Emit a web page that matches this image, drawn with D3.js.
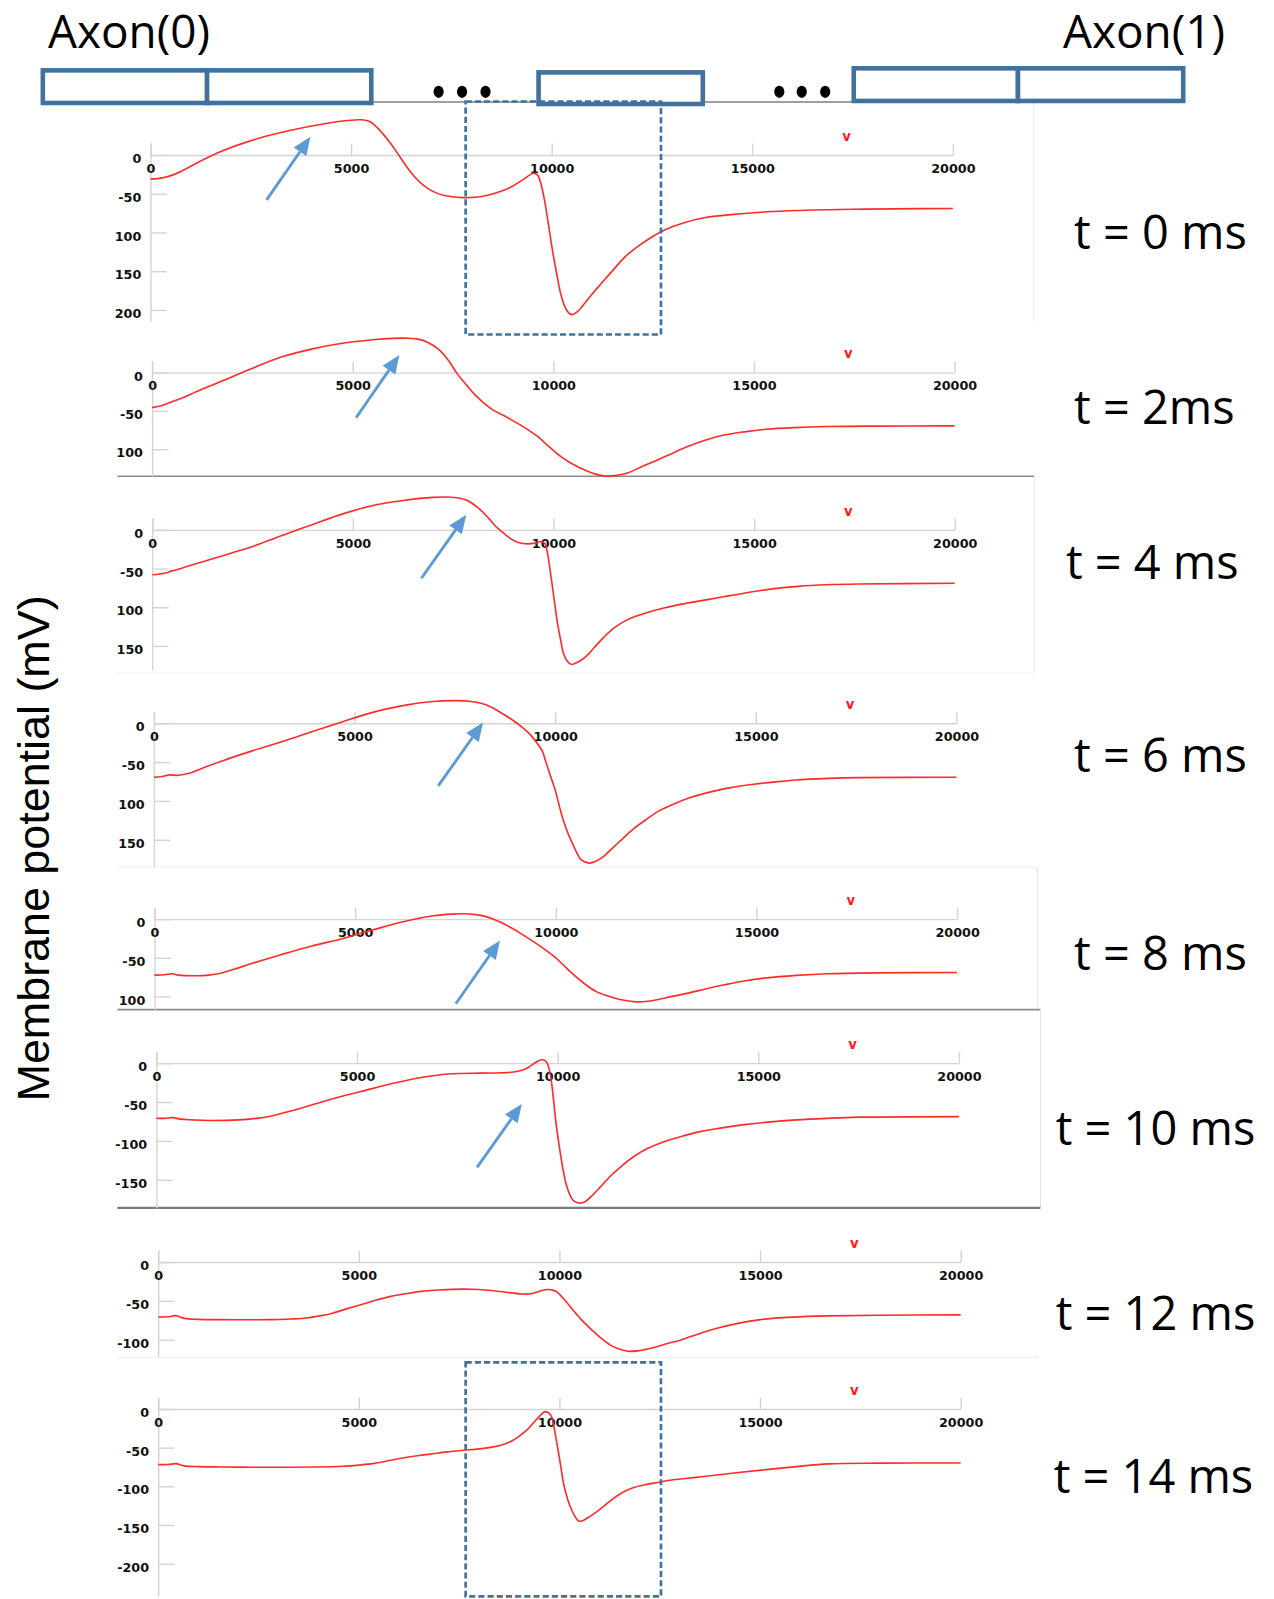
<!DOCTYPE html>
<html>
<head>
<meta charset="utf-8">
<script src="https://cdn.jsdelivr.net/npm/d3@7"></script>
<style>
  html, body { margin: 0; padding: 0; background: #ffffff; }
  svg { display: block; }
</style>
</head>
<body>
<svg id="chart" width="1274" height="1599" viewBox="0 0 1249 1568" preserveAspectRatio="none"></svg>
<script>
// ---------------- DATA ----------------
const xTicks = [0, 5000, 10000, 15000, 20000];
const timeLabels = ["t = 0 ms", "t = 2ms", "t = 4 ms", "t = 6 ms", "t = 8 ms", "t = 10 ms", "t = 12 ms", "t = 14 ms"];
const axonLabels = ["Axon(0)", "Axon(1)"];
const yLabel = "Membrane potential (mV)";

const yTicks5 = [0, -50, -100, -150, -200];
const yTicks4 = [0, -50, -100, -150];
const yTicks3 = [0, -50, -100];
const yTickLabelsClipped5 = ["0", "-50", "100", "150", "200"];
const yTickLabelsClipped4 = ["0", "-50", "100", "150"];
const yTickLabelsClipped3 = ["0", "-50", "100"];
const yTickLabelsFull5 = ["0", "-50", "-100", "-150", "-200"];
const yTickLabelsFull4 = ["0", "-50", "-100", "-150"];
const yTickLabelsFull3 = ["0", "-50", "-100"];

const markerX = 17350; // small red "v" marker position along the axon

// membrane potential (mV) vs position, one series per time step
const v0ms = [[0,-31],[300,-29.5],[600,-25],[900,-17.5],[1300,-6.5],[1800,5.5],[2300,15],[2900,24.5],[3500,32],[4300,40],[4900,44.5],[5250,45.5],[5450,43.5],[5600,38],[5800,27],[6000,14],[6200,-1],[6400,-16],[6600,-29],[6800,-39],[7000,-46],[7300,-52],[7800,-55],[8100,-54.5],[8400,-52],[8700,-47.5],[9000,-41],[9250,-33],[9450,-26],[9550,-23.5],[9650,-26],[9720,-35],[9820,-58],[9920,-90],[10020,-123],[10120,-152],[10220,-178],[10330,-196],[10450,-205],[10530,-206],[10650,-202],[10830,-191],[11000,-180],[11235,-166],[11540,-148],[11840,-131],[12150,-118],[12450,-107.5],[12850,-96],[13260,-88],[13800,-81],[14470,-77],[15490,-73],[16500,-71],[17500,-70],[18520,-69.5],[20000,-69]];
const v2ms = [[0,-45.7],[250,-43],[500,-38],[800,-32],[1100,-25],[1700,-12],[2500,5.7],[3200,20],[4000,31],[4700,38],[5500,43],[6000,44.8],[6300,45],[6600,44],[6850,40],[7150,30],[7400,15],[7600,-1],[7850,-17],[8050,-29],[8300,-41],[8500,-49],[8800,-57],[9100,-66],[9350,-74],[9600,-83],[9900,-97],[10200,-110],[10500,-120],[10800,-127.5],[11050,-132.5],[11300,-135],[11600,-134],[11850,-131],[12200,-123],[12600,-114],[13000,-104.5],[13350,-96.5],[13800,-88],[14250,-81.5],[14800,-77],[15300,-74],[16000,-71.8],[16800,-70.4],[18000,-69.8],[20000,-69.6]];
const v4ms = [[0,-58],[300,-56],[500,-53],[650,-51],[1000,-45],[1400,-39],[2000,-29.5],[2500,-21.5],[3200,-7.8],[4000,7],[4750,20.7],[5500,31.5],[6250,38],[7000,42],[7450,42.2],[7700,40.5],[7900,36.6],[8150,27],[8350,17],[8550,5],[8750,-4],[8950,-12],[9100,-16],[9300,-18],[9500,-17.5],[9700,-15],[9790,-18],[9850,-30],[9950,-65],[10030,-95],[10100,-121],[10180,-143],[10250,-160],[10350,-170],[10450,-174],[10600,-171],[10800,-164],[11000,-153],[11250,-139],[11500,-127],[11850,-116],[12300,-107.5],[12750,-101],[13300,-95],[13800,-90.5],[14400,-85],[15000,-79.7],[15500,-76],[16100,-73],[16800,-71],[17600,-70],[20000,-69]];
const v6ms = [[0,-69.5],[200,-68.5],[400,-66.5],[600,-67],[900,-64],[1300,-56],[1700,-48.5],[2450,-35.6],[3200,-23.6],[3950,-10.7],[4700,2],[5450,14],[6200,22.7],[6950,28],[7550,29],[7900,28],[8150,25.8],[8400,21],[8600,15],[8850,7],[9100,-2],[9350,-13],[9550,-25.8],[9680,-36],[9750,-47],[9870,-66],[10000,-86],[10100,-106],[10200,-124.5],[10320,-142],[10450,-157],[10550,-168],[10650,-176],[10850,-180],[11000,-178],[11200,-171.7],[11400,-162],[11650,-150],[11950,-136],[12250,-124.5],[12600,-112.5],[13000,-103],[13350,-96],[13750,-90],[14300,-83.5],[14950,-78.5],[15500,-75.5],[16000,-73],[16800,-71],[17550,-70],[20000,-69.5]];
const v8ms = [[0,-72.4],[250,-72],[450,-70.7],[600,-72.5],[1050,-73.3],[1350,-72.5],[1650,-70],[2000,-64.5],[2400,-57.8],[3150,-46],[3900,-35],[4700,-25],[5450,-13.8],[6200,-3.4],[6950,4.3],[7400,6.5],[7700,6.9],[8000,5.8],[8300,2.6],[8600,-3.5],[8900,-11.6],[9200,-21],[9500,-31],[9750,-40],[9950,-48],[10200,-60],[10400,-70],[10700,-83],[11000,-93.5],[11300,-99.5],[11600,-104],[12000,-107],[12300,-106.2],[12550,-104],[12900,-100],[13300,-95.7],[13750,-90],[14200,-85],[14700,-80],[15250,-76],[16000,-72.8],[16750,-70.7],[18000,-69.5],[20000,-69]];
const v10ms = [[0,-71],[200,-71],[400,-70],[600,-72],[900,-73],[1300,-73.8],[2050,-73],[2500,-71],[2800,-68.7],[3200,-63.5],[3600,-58],[4350,-46.4],[5100,-36.5],[5850,-26.6],[6600,-18.5],[7350,-13.7],[8100,-12.9],[8600,-12.5],[8900,-11.5],[9150,-8.6],[9300,-4.5],[9400,-0.9],[9500,2.5],[9600,4.3],[9680,3.5],[9740,0],[9800,-10],[9850,-25.8],[9900,-48],[9950,-73],[10020,-100],[10080,-120],[10150,-141],[10230,-159],[10320,-171],[10400,-177],[10560,-180],[10700,-177.5],[10830,-171.7],[11050,-160],[11300,-146],[11600,-132],[11900,-120],[12250,-109.5],[12650,-101],[13100,-94],[13550,-88],[14050,-83.5],[14600,-79.4],[15250,-75.8],[15950,-73],[16700,-71],[17500,-69.5],[20000,-68.7]];
const v12ms = [[0,-70.8],[250,-70.5],[440,-69],[650,-72.5],[1000,-73.8],[1550,-74.2],[2200,-74.3],[2800,-74.2],[3300,-73.3],[3700,-72],[4000,-69.5],[4300,-66.5],[4650,-61],[5050,-55],[5400,-49.5],[5800,-44.2],[6200,-40.5],[6550,-37.8],[7000,-36],[7600,-34.8],[8000,-35.3],[8350,-36.9],[8750,-39.3],[9100,-41.2],[9300,-40.8],[9450,-38.5],[9600,-36],[9730,-35.3],[9850,-36.5],[9950,-39],[10100,-47],[10330,-61.4],[10550,-74.5],[10800,-87],[11000,-96.5],[11250,-106.4],[11450,-111.5],[11700,-115],[12000,-114],[12300,-110.7],[12650,-105.5],[13050,-100],[13500,-92],[13950,-85],[14450,-79],[15000,-74.2],[15800,-71],[16700,-69.4],[18000,-68.5],[20000,-68]];
const v14ms = [[0,-72],[250,-71.8],[440,-70.7],[650,-73.5],[1000,-74.5],[1550,-75],[2300,-75.3],[3100,-75.4],[3900,-75],[4600,-74],[5000,-72.5],[5350,-70.7],[5700,-67.3],[6100,-63.4],[6500,-60.2],[6850,-57.8],[7200,-55.5],[7600,-53.4],[8000,-51.5],[8350,-49],[8600,-46],[8800,-41.8],[9000,-35],[9200,-26.7],[9350,-18],[9500,-9.5],[9600,-4.5],[9660,-3.4],[9730,-5],[9800,-9.5],[9870,-25],[9950,-48.3],[10030,-73],[10100,-95.7],[10200,-116],[10300,-130],[10400,-140],[10480,-145],[10580,-144.5],[10700,-141],[10900,-134],[11100,-126],[11300,-117.5],[11550,-108.6],[11800,-102.5],[12150,-97.8],[12450,-95],[12750,-92.2],[13200,-89.5],[13650,-87],[14400,-82.5],[15150,-78.4],[15900,-74.5],[16700,-71],[18000,-70],[20000,-69.8]];

// annotation arrows (tail -> head), in data units [position, mV]
const arrowTails = [[2895,-58],[5085,-59],[6707,-62.5],[7085,-80.7],[7508,-109.5],[7991,-134],null,null];
const arrowHeads = [[3988,23.7],[6164,23],[7825,19.4],[8202,0.9],[8610,-27.6],[9109,-52.4],null,null];

// ---------------- LAYOUT (positions only) ----------------
const series = [v0ms, v2ms, v4ms, v6ms, v8ms, v10ms, v12ms, v14ms];
const tickSets = [yTicks5, yTicks3, yTicks4, yTicks4, yTicks3, yTicks4, yTicks3, yTicks5];
const tickLabelSets = [yTickLabelsClipped5, yTickLabelsClipped3, yTickLabelsClipped4, yTickLabelsClipped4,
                       yTickLabelsClipped3, yTickLabelsFull4, yTickLabelsFull3, yTickLabelsFull5];
const panelLayout = [
  {x0:147.5, x1:934.2, y0:152.0,  k:0.7595, top:140,    bottom:315,    lx:1053, ly:228},
  {x0:149.1, x1:935.8, y0:365.4,  k:0.751,  top:354,    bottom:467,    lx:1053, ly:400},
  {x0:149.3, x1:936.0, y0:519.6,  k:0.7587, top:508,    bottom:657,    lx:1045, ly:552},
  {x0:150.9, x1:937.7, y0:709.2,  k:0.762,  top:697.7,  bottom:849.7,  lx:1053, ly:741},
  {x0:151.5, x1:938.3, y0:901.3,  k:0.758,  top:890.5,  bottom:990,    lx:1053, ly:935},
  {x0:153.3, x1:940.1, y0:1042.5, k:0.763,  top:1031,   bottom:1184.6, lx:1035, ly:1107},
  {x0:155.1, x1:941.8, y0:1237.6, k:0.761,  top:1225.5, bottom:1330,   lx:1035, ly:1288},
  {x0:155.1, x1:941.8, y0:1381.7, k:0.758,  top:1370.9, bottom:1565,   lx:1033, ly:1448}
];

const BLUE = "#41719C";
const ARROW = "#5B9BD5";
const RED = "#FF2B2B";
const AXISGRAY = "#d4d4d4";

const svg = d3.select("#chart");

// ---------- panel frames (screenshot edges) ----------
const frameLines = [
  {x1:1013, y1:100, x2:1013, y2:317, c:"#ececec", w:1},
  {x1:115, y1:467, x2:1014, y2:467, c:"#8a8a8a", w:1.6},
  {x1:1014, y1:467, x2:1014, y2:660, c:"#ececec", w:1},
  {x1:115, y1:660, x2:1014, y2:660, c:"#efefef", w:1},
  {x1:115, y1:851, x2:1017, y2:851, c:"#efefef", w:1},
  {x1:1017, y1:851, x2:1017, y2:990, c:"#e6e6e6", w:1},
  {x1:115, y1:990, x2:1020, y2:990, c:"#8a8a8a", w:1.6},
  {x1:1020, y1:990, x2:1020, y2:1184, c:"#e2e2e2", w:1},
  {x1:115, y1:1184.5, x2:1020, y2:1184.5, c:"#7a7a7a", w:2.2},
  {x1:115, y1:1331, x2:1018, y2:1331, c:"#efefef", w:1.2}
];
svg.append("g").selectAll("line").data(frameLines).join("line")
  .attr("x1", d => d.x1).attr("y1", d => d.y1).attr("x2", d => d.x2).attr("y2", d => d.y2)
  .attr("stroke", d => d.c).attr("stroke-width", d => d.w);

// ---------- panels ----------
series.forEach((data, i) => {
  const L = panelLayout[i];
  const g = svg.append("g");
  const x = d3.scaleLinear().domain([0, 20000]).range([L.x0, L.x1]);
  const y = d3.scaleLinear()
    .domain([(L.y0 - L.top) / L.k, -(L.bottom - L.y0) / L.k])
    .range([L.top, L.bottom]);

  // y axis (ticks point inward, to the right)
  const labels = tickLabelSets[i];
  const yAxis = d3.axisLeft(y)
    .tickValues(tickSets[i])
    .tickSizeInner(-16).tickSizeOuter(0).tickPadding(9)
    .tickFormat((d, j) => labels[j]);
  const gy = g.append("g").attr("transform", `translate(${L.x0},0)`).call(yAxis);

  // x axis along 0 mV, ticks pointing up, labels below
  const xAxis = d3.axisBottom(x)
    .tickValues(xTicks)
    .tickSizeInner(-11).tickSizeOuter(0).tickPadding(8)
    .tickFormat(d3.format("d"));
  const gx = g.append("g").attr("transform", `translate(0,${y(0)})`).call(xAxis);

  [gx, gy].forEach(a => {
    a.attr("font-family", null).attr("font-size", null);
    a.select(".domain").attr("stroke", AXISGRAY).attr("stroke-width", 1.4);
    a.selectAll(".tick line").attr("stroke", AXISGRAY).attr("stroke-width", 1.4);
    a.selectAll(".tick text")
      .attr("fill", "#111")
      .style("font-family", "'DejaVu Sans', 'Liberation Sans', sans-serif")
      .style("font-weight", "bold")
      .style("font-size", "12.5px");
  });
  gy.selectAll(".tick text").attr("dy", "0.6em");
  gx.selectAll(".tick text").attr("dy", "0.76em");

  // curve
  const line = d3.line().x(d => x(d[0])).y(d => y(d[1])).curve(d3.curveCatmullRom.alpha(0.5));
  g.append("path").datum(data)
    .attr("d", line)
    .attr("fill", "none")
    .attr("stroke", RED)
    .attr("stroke-width", 1.6)
    .attr("stroke-linejoin", "round");

  // red "v" marker
  g.append("text")
    .attr("x", x(markerX)).attr("y", y(0) - 14)
    .attr("text-anchor", "middle")
    .attr("fill", "#ff1a1a")
    .style("font-family", "'DejaVu Sans', sans-serif")
    .style("font-weight", "bold")
    .style("font-size", "13px")
    .text("v");

  // arrow annotation
  if (arrowTails[i]) {
    const tx = x(arrowTails[i][0]), ty = y(arrowTails[i][1]);
    const hx = x(arrowHeads[i][0]), hy = y(arrowHeads[i][1]);
    const ang = Math.atan2(hy - ty, hx - tx);
    const headLen = 18, headHalf = 7.5;
    const bx = hx - headLen * Math.cos(ang), by = hy - headLen * Math.sin(ang);
    g.append("line")
      .attr("x1", tx).attr("y1", ty).attr("x2", bx).attr("y2", by)
      .attr("stroke", ARROW).attr("stroke-width", 2.8);
    const px = -Math.sin(ang), py = Math.cos(ang);
    g.append("path")
      .attr("d", `M${hx},${hy}L${bx + px * headHalf},${by + py * headHalf}L${bx - px * headHalf},${by - py * headHalf}Z`)
      .attr("fill", ARROW);
  }

  // time label
  svg.append("text")
    .attr("x", L.lx).attr("y", L.ly + 16)
    .style("font-family", "'Open Sans', 'Noto Sans', sans-serif")
    .style("font-size", "46px")
    .attr("fill", "#000")
    .text(timeLabels[i]);
});

// ---------- axon schematic on top ----------
const schematic = svg.append("g");
schematic.append("line").attr("x1", 364).attr("y1", 100).attr("x2", 837).attr("y2", 100)
  .attr("stroke", "#7f7f7f").attr("stroke-width", 1.5);
const axonBoxes = [
  {x:42, y:69, w:161, h:32}, {x:203, y:69, w:161, h:32},
  {x:528, y:71, w:161, h:31},
  {x:837, y:67, w:161, h:32}, {x:998, y:67, w:162, h:32}
];
schematic.selectAll("rect.box").data(axonBoxes).join("rect")
  .attr("class", "box")
  .attr("x", d => d.x).attr("y", d => d.y).attr("width", d => d.w).attr("height", d => d.h)
  .attr("fill", "#fff").attr("stroke", BLUE).attr("stroke-width", 4.5);
const dotsX = [430, 453, 476, 764, 786, 809];
schematic.selectAll("ellipse").data(dotsX).join("ellipse")
  .attr("cx", d => d).attr("cy", 90).attr("rx", 5).attr("ry", 6).attr("fill", "#000");

schematic.append("text").attr("x", 47).attr("y", 47)
  .style("font-family", "'Open Sans', 'Noto Sans', sans-serif").style("font-size", "45px")
  .text(axonLabels[0]);
schematic.append("text").attr("x", 1201).attr("y", 47).attr("text-anchor", "end")
  .style("font-family", "'Open Sans', 'Noto Sans', sans-serif").style("font-size", "45px")
  .text(axonLabels[1]);

// dashed highlight rectangles
const dashedRects = [{x:456.5, y:99.5, w:191.5, h:228.5}, {x:456.5, y:1336, w:191.5, h:229.5}];
svg.append("g").selectAll("rect").data(dashedRects).join("rect")
  .attr("x", d => d.x).attr("y", d => d.y).attr("width", d => d.w).attr("height", d => d.h)
  .attr("fill", "none").attr("stroke", BLUE).attr("stroke-width", 2.6)
  .attr("stroke-dasharray", "6,3");

// y axis title
svg.append("text")
  .attr("transform", "translate(48,832) rotate(-90)")
  .attr("text-anchor", "middle")
  .style("font-family", "'Liberation Sans', Arial, sans-serif")
  .style("font-size", "44px")
  .attr("fill", "#000")
  .text(yLabel);
</script>
</body>
</html>
